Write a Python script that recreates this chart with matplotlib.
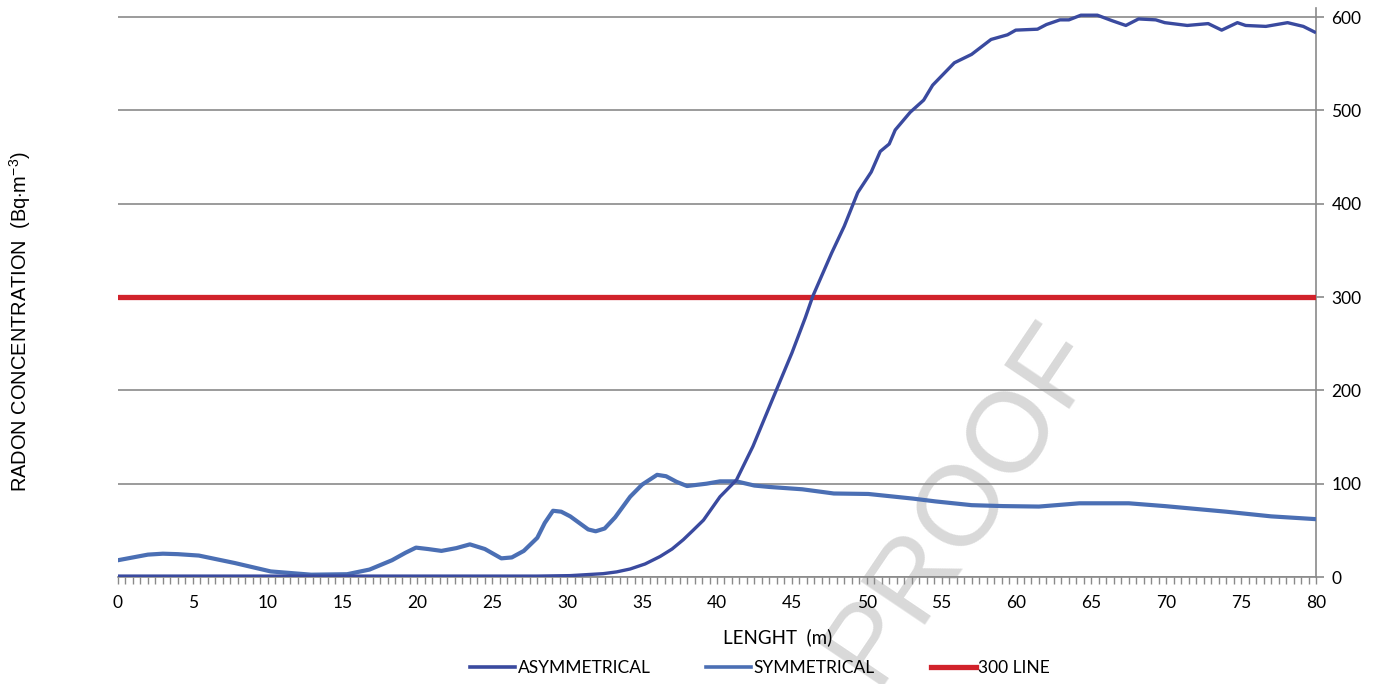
import matplotlib
matplotlib.use('Agg')
import matplotlib.pyplot as plt
from matplotlib.ticker import MultipleLocator
from matplotlib.lines import Line2D

plt.rcParams['mathtext.fontset'] = 'custom'
plt.rcParams['mathtext.rm'] = 'Liberation Sans'
plt.rcParams['mathtext.it'] = 'Liberation Sans'

# asymmetrical gallery
asym_x = [0, 5, 10, 15, 20, 25, 28, 30.2, 32.4, 33.3, 34.2, 35.2, 36.2, 37.0,
          37.75, 38.4, 39.1, 40.2, 41.3, 42.4, 43.8, 45.0, 45.9, 46.4, 47.65,
          48.5, 49.4, 50.3, 50.9, 51.5, 51.9, 52.9, 53.8, 54.4, 55.85, 57.0,
          58.3, 59.4, 59.95, 61.4, 62.0, 62.9, 63.5, 64.3, 65.4, 66.4, 67.3,
          68.15, 69.3, 69.9, 71.4, 72.8, 73.7, 74.75, 75.3, 76.65, 78.1,
          79.15, 79.9]
asym_y = [1, 1, 1, 1, 1, 1, 1, 1.5, 3.6, 5.5, 8.6, 14, 22, 30,
          40, 50, 61, 86, 104, 140, 194, 240, 278, 301, 347,
          376, 412, 434, 456, 464, 479, 498, 511, 527, 551, 560,
          576, 581, 586, 587, 592, 597, 597, 602, 602, 596, 591,
          598, 597, 594, 591, 593, 586, 594, 591, 590, 594,
          590, 584]

# symmetrical gallery
sym_x = [0, 1, 2, 3.0, 4, 5.4, 7.8, 10.2, 12.9, 15.3, 16.8, 18.3, 19.2, 19.9,
         20.7, 21.6, 22.6, 23.5, 24.5, 25.6, 26.3, 27.1, 28.0, 28.5, 29.05,
         29.6, 30.2, 30.8, 31.4, 31.9, 32.5, 33.2, 34.2, 35.0, 36.0, 36.6,
         37.3, 38.0, 39.3, 40.2, 41.3, 42.5, 43.5, 45.7, 47.8, 50.1, 53.1,
         54.6, 57.0, 59.1, 61.5, 64.2, 67.5, 69.9, 74.0, 77.0, 80]
sym_y = [18, 21, 24, 25, 24.5, 23, 15, 6, 2.5, 3, 8, 18, 26, 31.5,
         30, 28, 31, 35, 30, 20, 21, 28, 42, 58, 71,
         70, 65, 58, 51, 49, 52, 64, 86, 99, 109.5, 108,
         102, 97.5, 100, 102.5, 102.5, 98, 96.5, 94, 89.5, 89, 84,
         81, 77, 76, 75.5, 79, 79, 76, 70, 65, 62]

# reference level
line_x = [0, 80]
line_y = [300, 300]

c_asym = '#3a4a9f'
c_sym = '#4b6fb4'
c_line = '#d1222b'
grey = '#8a8a8a'
tick_font = 'Lato'

fig = plt.figure(figsize=(13.91, 6.84), dpi=100)
ax = fig.add_axes([0.0848, 0.1564, 0.8613, 0.8323])
ax.patch.set_alpha(0)

ax.plot(line_x, line_y, color=c_line, lw=3.8, solid_capstyle='round', zorder=3)
ax.plot(sym_x, sym_y, color=c_sym, lw=3.0, zorder=4, solid_joinstyle='round')
ax.plot(asym_x, asym_y, color=c_asym, lw=2.4, zorder=5, solid_joinstyle='round')

ax.set_xlim(0, 80)
ax.set_ylim(0, 610)
ax.set_yticks(range(0, 601, 100))
ax.xaxis.set_major_locator(MultipleLocator(5))
ax.xaxis.set_minor_locator(MultipleLocator(0.5))
ax.yaxis.tick_right()
ax.grid(axis='y', color=grey, lw=1.2, zorder=1)

for s in ['left', 'top']:
    ax.spines[s].set_visible(False)
for s in ['right', 'bottom']:
    ax.spines[s].set_color(grey)
    ax.spines[s].set_linewidth(1.2)

ax.tick_params(axis='x', which='both', direction='out', length=5, width=1,
               color=grey, pad=8)
ax.tick_params(axis='y', direction='out', length=6, width=1.2, color=grey, pad=5)
for lab in ax.get_xticklabels() + ax.get_yticklabels():
    lab.set_family(tick_font)
    lab.set_fontsize(12.5)

fig.text(0.0144, 1 - 322 / 684, 'RADON CONCENTRATION  (Bq$\\cdot$m$^{-3}$)',
         rotation=90, ha='center', va='center', fontsize=14.4,
         family='Liberation Sans')
fig.text(778 / 1391, 1 - 637 / 684, 'LENGHT  (m)', ha='center', va='center',
         fontsize=13.5, family=tick_font)

handles = [Line2D([], [], color=c_asym, lw=2.6),
           Line2D([], [], color=c_sym, lw=2.6),
           Line2D([], [], color=c_line, lw=3.8)]
fig.legend(handles, ['ASYMMETRICAL', 'SYMMETRICAL', '300 LINE'],
           loc='center', bbox_to_anchor=(760 / 1391, 1 - 668 / 684), ncol=3,
           frameon=False, handlelength=2.6, handletextpad=0.15,
           columnspacing=3.2, prop={'family': tick_font, 'size': 12.5})

fig.text(0.692, 0.265, 'PROOF', rotation=56, ha='center', va='center',
         fontsize=82, color='#d9d9d9', family='Liberation Sans', zorder=-1)

fig.savefig('out.png', dpi=100)
